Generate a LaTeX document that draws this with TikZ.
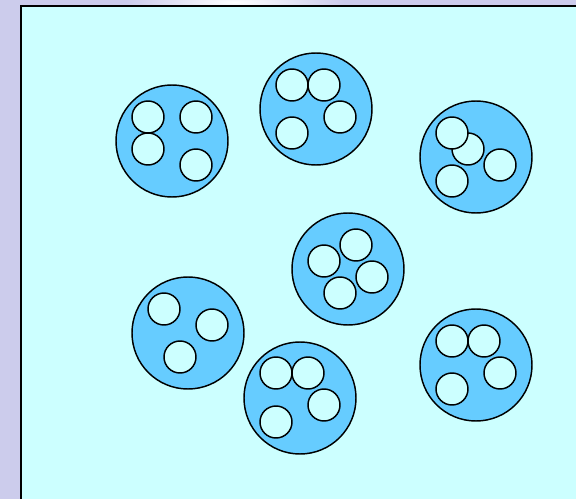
\documentclass[tikz,border=0pt]{standalone}
\usepackage{xcolor}
\usepackage{tikz}
\usetikzlibrary{positioning}
\definecolor{cellBg}{HTML}{CCCCEC}
\definecolor{cellMedium}{HTML}{CCFFFF}
\definecolor{cellBody}{HTML}{66CCFF}
\tikzset{
  medium/.style={draw=black, line width=1.8pt, fill=cellMedium},
  bigcell/.style={
    circle, draw=black, line width=1.25pt, fill=cellBody,
    minimum size=3.36cm, inner sep=0pt
  },
  vesicle/.style={
    circle, draw=black, line width=1.25pt, fill=cellMedium,
    minimum size=0.96cm, inner sep=0pt
  }
}

\begin{document}
\begin{tikzpicture}[x=0.03cm, y=-0.03cm]
  \useasboundingbox (0,0) rectangle (576,499);
  \fill[cellBg] (0,0) rectangle (576,499);
  \shade[inner color=white, outer color=cellBg] (235,2) ellipse (110 and 14);
  \node[medium, minimum width=17.4cm, minimum height=15.2cm, anchor=north west] (dish) at (20,5) {};
  % cells with their inner vesicles
  \node[bigcell] (cA) at (172,141) {};
  \foreach \p [count=\i] in {(148,117),(196,117),(148,149),(196,165)}
    \node[vesicle] (cA\i) at \p {};
  \node[bigcell] (cB) at (316,109) {};
  \foreach \p [count=\i] in {(292,85),(324,85),(340,117),(292,133)}
    \node[vesicle] (cB\i) at \p {};
  \node[bigcell] (cC) at (476,157) {};
  \foreach \p [count=\i] in {(468,149),(500,165),(452,181),(452,133)}
    \node[vesicle] (cC\i) at \p {};
  \node[bigcell] (cD) at (348,269) {};
  \foreach \p [count=\i] in {(324,261),(356,245),(372,277),(340,293)}
    \node[vesicle] (cD\i) at \p {};
  \node[bigcell] (cE) at (188,333) {};
  \foreach \p [count=\i] in {(164,309),(212,325),(180,357)}
    \node[vesicle] (cE\i) at \p {};
  \node[bigcell] (cF) at (300,398) {};
  \foreach \p [count=\i] in {(276,373),(308,373),(324,405),(276,422)}
    \node[vesicle] (cF\i) at \p {};
  \node[bigcell] (cG) at (476,365) {};
  \foreach \p [count=\i] in {(452,341),(484,341),(500,373),(452,389)}
    \node[vesicle] (cG\i) at \p {};
\end{tikzpicture}
\end{document}
